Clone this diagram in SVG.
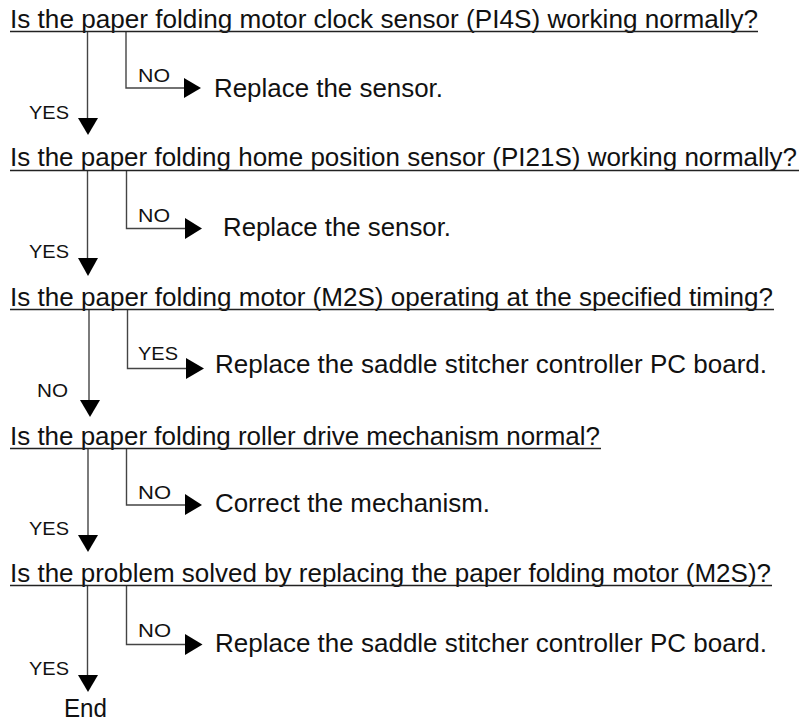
<svg xmlns="http://www.w3.org/2000/svg" width="801" height="723" viewBox="0 0 801 723">
<style>
text{font-family:"Liberation Sans",Arial,Helvetica,sans-serif;fill:#111}
.q{font-size:25.5px}
.a{font-size:25.5px}
.l{font-size:18.5px}
.ul{stroke:#222;stroke-width:1.3;fill:none}
.c{stroke:#444;stroke-width:1.4;fill:none}
.h{fill:#000}
</style>
<rect width="801" height="723" fill="#fff"/>
<g id="connectors">
<path class="c" d="M87.5 31V118"/><polygon class="h" points="78,118 98,118 88,135"/>
<path class="c" d="M126 31V88H185"/><polygon class="h" points="184,78 201,88 184,98"/>
<path class="c" d="M87.5 170V258"/><polygon class="h" points="78,258 98,258 88,276"/>
<path class="c" d="M126.5 170V228.5H186"/><polygon class="h" points="185,218 202,228.5 185,239"/>
<path class="c" d="M89 309V400"/><polygon class="h" points="80,400 100,400 90,417"/>
<path class="c" d="M127.5 309V368.5H187"/><polygon class="h" points="186,358 204,368.5 186,379"/>
<path class="c" d="M88 448V535"/><polygon class="h" points="78,535 98,535 88,552"/>
<path class="c" d="M126.5 448V505H186"/><polygon class="h" points="185,494 202,505 185,515"/>
<path class="c" d="M87.5 585V675"/><polygon class="h" points="78,675 98,675 88,692"/>
<path class="c" d="M126.5 585V644.5H186"/><polygon class="h" points="185,634 202.5,644.5 185,655"/>
</g>
<g id="q1">
<text class="q" x="10" y="28" textLength="748" lengthAdjust="spacingAndGlyphs">Is the paper folding motor clock sensor (PI4S) working normally?</text>
<path class="ul" d="M10 31.5H758"/>
</g>
<g id="a1"><text class="a" x="214" y="97" textLength="229" lengthAdjust="spacingAndGlyphs">Replace the sensor.</text></g>
<g id="l1">
<text class="l" x="138" y="82" textLength="32" lengthAdjust="spacingAndGlyphs">NO</text>
<text class="l" x="29" y="119" textLength="40" lengthAdjust="spacingAndGlyphs">YES</text>
</g>
<g id="q2">
<text class="q" x="10" y="166" textLength="787" lengthAdjust="spacingAndGlyphs">Is the paper folding home position sensor (PI21S) working normally?</text>
<path class="ul" d="M10 170.5H799"/>
</g>
<g id="a2"><text class="a" x="223" y="236" textLength="228" lengthAdjust="spacingAndGlyphs">Replace the sensor.</text></g>
<g id="l2">
<text class="l" x="138" y="222" textLength="32" lengthAdjust="spacingAndGlyphs">NO</text>
<text class="l" x="29" y="258" textLength="40" lengthAdjust="spacingAndGlyphs">YES</text>
</g>
<g id="q3">
<text class="q" x="10" y="305.5" textLength="763" lengthAdjust="spacingAndGlyphs">Is the paper folding motor (M2S) operating at the specified timing?</text>
<path class="ul" d="M10 309.5H774"/>
</g>
<g id="a3"><text class="a" x="215" y="373" textLength="552" lengthAdjust="spacingAndGlyphs">Replace the saddle stitcher controller PC board.</text></g>
<g id="l3">
<text class="l" x="138" y="360" textLength="40" lengthAdjust="spacingAndGlyphs">YES</text>
<text class="l" x="37" y="397" textLength="31" lengthAdjust="spacingAndGlyphs">NO</text>
</g>
<g id="q4">
<text class="q" x="10" y="444.5" textLength="590" lengthAdjust="spacingAndGlyphs">Is the paper folding roller drive mechanism normal?</text>
<path class="ul" d="M10 448.5H601"/>
</g>
<g id="a4"><text class="a" x="215" y="511.5" textLength="275" lengthAdjust="spacingAndGlyphs">Correct the mechanism.</text></g>
<g id="l4">
<text class="l" x="138" y="499" textLength="33" lengthAdjust="spacingAndGlyphs">NO</text>
<text class="l" x="29" y="535" textLength="40" lengthAdjust="spacingAndGlyphs">YES</text>
</g>
<g id="q5">
<text class="q" x="10" y="581.5" textLength="761" lengthAdjust="spacingAndGlyphs">Is the problem solved by replacing the paper folding motor (M2S)?</text>
<path class="ul" d="M10 585.5H772"/>
</g>
<g id="a5"><text class="a" x="215" y="651.5" textLength="552" lengthAdjust="spacingAndGlyphs">Replace the saddle stitcher controller PC board.</text></g>
<g id="l5">
<text class="l" x="138" y="637" textLength="33" lengthAdjust="spacingAndGlyphs">NO</text>
<text class="l" x="29" y="675" textLength="40" lengthAdjust="spacingAndGlyphs">YES</text>
</g>
<g id="end"><text class="a" x="64" y="717" textLength="43" lengthAdjust="spacingAndGlyphs">End</text></g>
</svg>
